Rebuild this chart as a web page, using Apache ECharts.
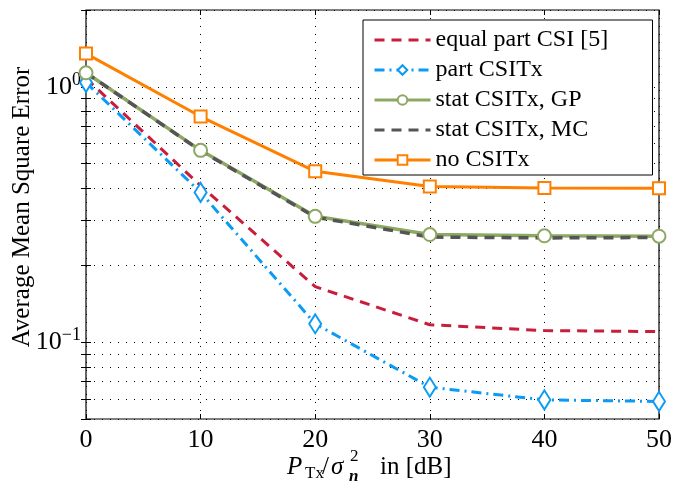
<!DOCTYPE html>
<html>
<head>
<meta charset="utf-8">
<script src="https://cdn.jsdelivr.net/npm/echarts@6.0.0/dist/echarts.min.js"></script>
<style>
  html, body { margin: 0; padding: 0; background: #fff; }
  #chart { width: 675px; height: 483px; }
</style>
</head>
<body>
<div id="chart"></div>
<script>
// x values (transmit SNR in dB)
var snr = [0, 10, 20, 30, 40, 50];
// average MSE per curve
var equalPartCsi = [1.08, 0.41, 0.165, 0.117, 0.111, 0.110];
var partCsitx = [1.04, 0.386, 0.118, 0.0666, 0.0594, 0.0586];
var statCsitxGP = [1.135, 0.564, 0.311, 0.264, 0.261, 0.260];
var statCsitxMC = [1.135, 0.562, 0.309, 0.258, 0.256, 0.257];
var noCsitx = [1.35, 0.765, 0.467, 0.407, 0.402, 0.401];

var yLabelTicks = [0.1, 1];
var yMinorTicks = [0.05, 0.06, 0.07, 0.08, 0.09, 0.1, 0.2, 0.3, 0.4, 0.5, 0.6, 0.7, 0.8, 0.9, 1, 2];

var serif = '"Liberation Serif", "DejaVu Serif", serif';

function pairs(ys) {
    return snr.map(function (x, i) { return [x, ys[i]]; });
}

function txt(x, y, s, size, extra) {
    var style = { text: s, fontFamily: serif, fontSize: size, fill: '#000', verticalAlign: 'middle' };
    for (var k in extra) style[k] = extra[k];
    return { type: 'text', x: x, y: y, style: style };
}

var myChart = echarts.init(document.getElementById('chart'));

var dotted = { color: '#000', width: 1, type: [1, 7] };

myChart.setOption({
    animation: false,
    backgroundColor: '#fff',
    grid: {
        left: 86, right: 14, top: 10, bottom: 64,
        show: true, borderColor: '#000', borderWidth: 1.2
    },
    xAxis: [{
        type: 'value', min: 0, max: 50, interval: 10,
        axisLine: { show: false },
        axisTick: { inside: true, length: 5, lineStyle: { color: '#000' } },
        splitLine: { show: true, lineStyle: dotted },
        axisLabel: {
            margin: 8, color: '#000', fontFamily: serif, fontSize: 26
        }
    }, {
        type: 'value', min: 0, max: 50, interval: 10, position: 'top',
        axisLine: { show: false },
        axisTick: { inside: true, length: 5, lineStyle: { color: '#000' } },
        splitLine: { show: false },
        axisLabel: { show: false }
    }],
    yAxis: [{
        type: 'log', logBase: 10, min: 0.05, max: 2,
        axisLine: { show: false },
        axisTick: { inside: true, length: 5, customValues: yMinorTicks, lineStyle: { color: '#000' } },
        splitLine: { show: true, lineStyle: dotted },
        axisLabel: {
            customValues: yLabelTicks,
            margin: 5,
            formatter: function (v) {
                var e = Math.round(Math.log10(v));
                return '{b|10}{s|' + (e < 0 ? '\u2212' + (-e) : e) + '}';
            },
            rich: {
                b: { fontFamily: serif, fontSize: 26, lineHeight: 32, color: '#000' },
                s: { fontFamily: serif, fontSize: 18, lineHeight: 18, verticalAlign: 'top', color: '#000' }
            }
        }
    }, {
        type: 'log', logBase: 10, min: 0.05, max: 2, position: 'right',
        axisLine: { show: false },
        axisTick: { inside: true, length: 5, customValues: yMinorTicks, lineStyle: { color: '#000' } },
        splitLine: { show: false },
        axisLabel: { show: false }
    }],
    legend: {
        orient: 'vertical',
        left: 363, top: 20,
        padding: [5, 12, 0, 10],
        itemGap: 0,
        itemWidth: 56, itemHeight: 12,
        backgroundColor: '#fff',
        borderColor: '#000', borderWidth: 1,
        borderRadius: 0,
        lineStyle: { width: 3 },
        textStyle: { fontFamily: serif, fontSize: 24, lineHeight: 30, width: 205, color: '#000' },
        data: ['equal part CSI [5]', 'part CSITx', 'stat CSITx, GP', 'stat CSITx, MC', 'no CSITx']
    },
    graphic: [
        {
            type: 'text', x: 22, y: 207, rotation: Math.PI / 2,
            style: {
                text: 'Average Mean Square Error', fontFamily: serif, fontSize: 25,
                fill: '#000', align: 'center', verticalAlign: 'middle'
            }
        },
        {
            type: 'group', children: [
                txt(287, 467, 'P', 25, { fontStyle: 'italic' }),
                txt(305, 474, 'Tx', 17),
                txt(322, 467, '/', 25),
                txt(331, 467, '\u03c3', 25, { fontStyle: 'italic' }),
                txt(350, 457, '2', 17),
                txt(349, 477, 'n', 17, { fontStyle: 'italic', fontWeight: 'bold' }),
                txt(380, 467, 'in [dB]', 25)
            ]
        }
    ],
    series: [{
        name: 'equal part CSI [5]', type: 'line', data: pairs(equalPartCsi),
        symbol: 'none',
        lineStyle: { color: '#c81e3c', width: 3, type: [10, 7] },
        itemStyle: { color: '#c81e3c', opacity: 0 }
    }, {
        name: 'part CSITx', type: 'line', data: pairs(partCsitx),
        symbol: 'emptyDiamond', symbolSize: [12, 19],
        lineStyle: { color: '#0a9bf5', width: 3, type: [10, 5, 2, 5] },
        itemStyle: { color: '#0a9bf5', borderWidth: 3 }
    }, {
        name: 'stat CSITx, GP', type: 'line', data: pairs(statCsitxGP),
        symbol: 'emptyCircle', symbolSize: 13,
        lineStyle: { color: '#8ca862', width: 3.5 },
        itemStyle: { color: '#8ca862', borderWidth: 3 }
    }, {
        name: 'stat CSITx, MC', type: 'line', data: pairs(statCsitxMC),
        symbol: 'none',
        lineStyle: { color: '#555555', width: 3.5, type: [10, 7] },
        itemStyle: { color: '#555555', opacity: 0 }
    }, {
        name: 'no CSITx', type: 'line', data: pairs(noCsitx),
        symbol: 'emptyRect', symbolSize: 12,
        lineStyle: { color: '#ff8000', width: 3 },
        itemStyle: { color: '#ff8000', borderWidth: 3 }
    }]
});
</script>
</body>
</html>
